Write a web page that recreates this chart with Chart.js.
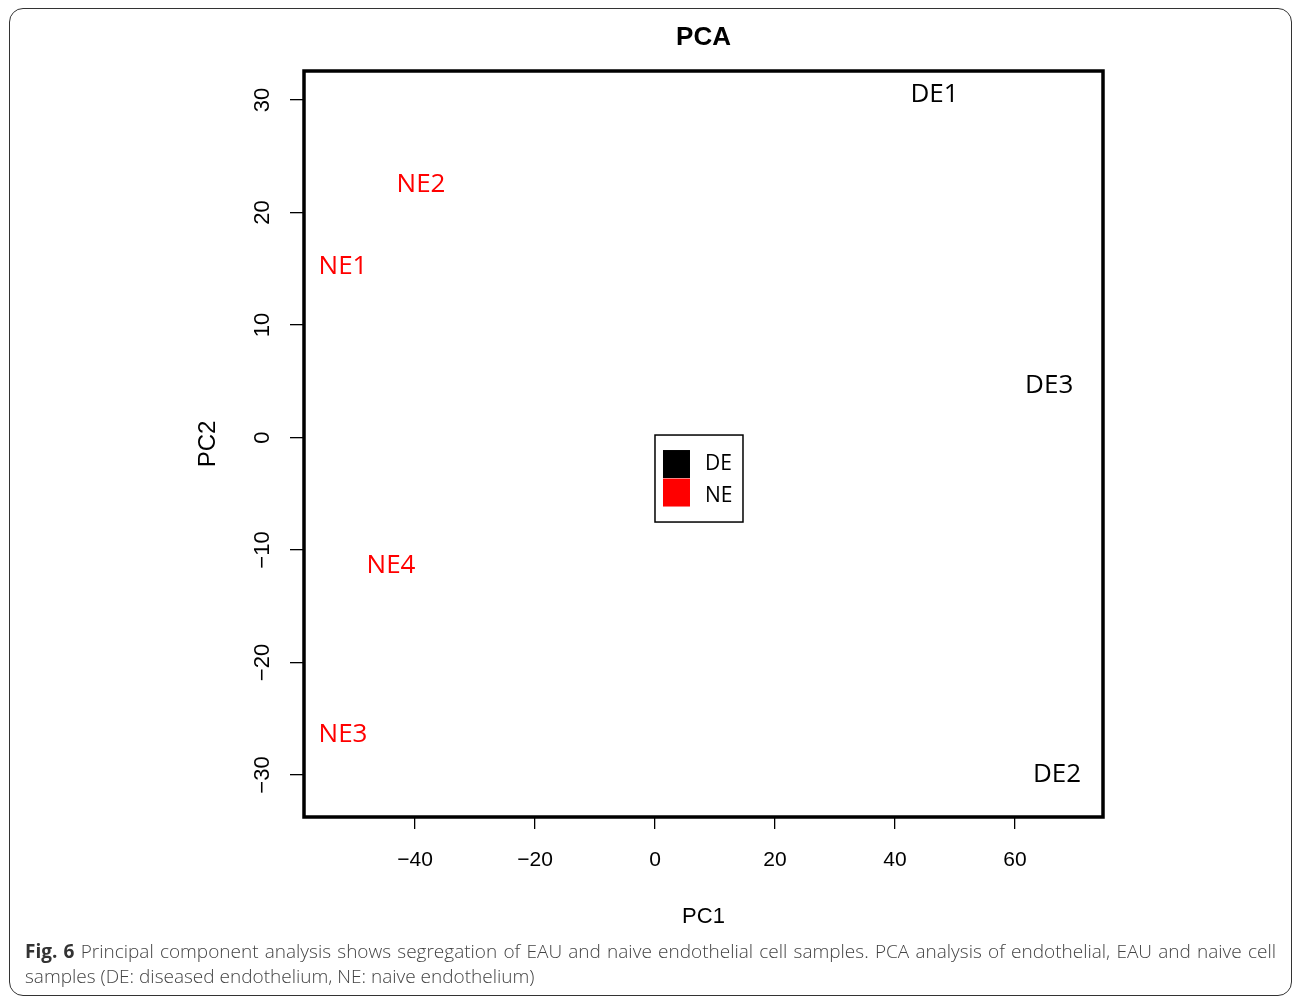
<!DOCTYPE html>
<html>
<head>
<meta charset="utf-8">
<title>PCA</title>
<script src="https://cdn.jsdelivr.net/npm/chart.js@4.4.1/dist/chart.umd.min.js"></script>
<style>
  html, body { margin: 0; padding: 0; background: #fff; }
  body { width: 1293px; height: 996px; position: relative; overflow: hidden; }
  #frame {
    position: absolute; left: 9px; top: 8px; width: 1283px; height: 988px;
    border: 1.5px solid #333; border-radius: 14px; box-sizing: border-box;
  }
  #pcaChart { position: absolute; left: 0; top: 0; }
  .caption {
    position: absolute; left: 25px; width: 1251px;
    font-family: "Open Sans", sans-serif; font-weight: 300; font-size: 19px;
    color: #444; white-space: nowrap; line-height: 24px;
  }
  .caption b { font-weight: 700; color: #333; }
  #cap1 { top: 939px; text-align: justify; text-align-last: justify; }
  #cap2 { top: 964px; }
</style>
</head>
<body>
<div id="frame"></div>
<canvas id="pcaChart" width="1293" height="996"></canvas>
<div class="caption" id="cap1"><b>Fig. 6</b> Principal component analysis shows segregation of EAU and naive endothelial cell samples. PCA analysis of endothelial, EAU and naive cell</div>
<div class="caption" id="cap2">samples (DE: diseased endothelium, NE: naive endothelium)</div>

<script>
// sample scores
const sampleNames = ['DE1', 'DE2', 'DE3', 'NE1', 'NE2', 'NE3', 'NE4'];
const sampleGroups = ['DE', 'DE', 'DE', 'NE', 'NE', 'NE', 'NE'];
const pc1Values = [46.6, 67.0, 65.7, -52.0, -39.0, -52.0, -44.0];
const pc2Values = [30.5, -30.0, 4.6, 15.2, 22.5, -26.4, -11.4];

const groupNames = ['DE', 'NE'];
const groupColors = ['#000000', '#ff0000'];

const xTicks = [-40, -20, 0, 20, 40, 60];
const yTicks = [-30, -20, -10, 0, 10, 20, 30];

const axisFont = '"Liberation Sans", Arial, sans-serif';
const labelFont = '"Open Sans", sans-serif';

// R style minus sign
function fmt(v) {
    return v < 0 ? '\u2212' + Math.abs(v) : String(v);
}

const datasets = groupNames.map((g, gi) => ({
    label: g,
    data: sampleNames
        .map((n, i) => ({ x: pc1Values[i], y: pc2Values[i], name: n, group: sampleGroups[i] }))
        .filter(p => p.group === g),
    pointRadius: 0,
    pointHoverRadius: 0,
    backgroundColor: groupColors[gi],
    borderColor: groupColors[gi]
}));

// sample names are drawn instead of point markers
const sampleLabels = {
    id: 'sampleLabels',
    afterDatasetsDraw(chart) {
        const ctx = chart.ctx;
        ctx.save();
        ctx.font = '26px ' + labelFont;
        ctx.textAlign = 'center';
        ctx.textBaseline = 'middle';
        chart.data.datasets.forEach((ds, di) => {
            const meta = chart.getDatasetMeta(di);
            ctx.fillStyle = ds.borderColor;
            meta.data.forEach((el, i) => {
                ctx.fillText(ds.data[i].name, el.x, el.y);
            });
        });
        ctx.restore();
    }
};

// box round plot region, rotated y labels, legend in the middle
const plotExtras = {
    id: 'plotExtras',
    afterDraw(chart) {
        const ctx = chart.ctx;
        const area = chart.chartArea;
        const xs = chart.scales.x;
        const ys = chart.scales.y;
        ctx.save();

        ctx.strokeStyle = '#000';
        ctx.lineWidth = 3.5;
        ctx.strokeRect(area.left, area.top, area.right - area.left, area.bottom - area.top);

        ctx.fillStyle = '#000';
        ctx.font = '22px ' + axisFont;
        ctx.textAlign = 'center';
        ctx.textBaseline = 'middle';
        ys.ticks.forEach(t => {
            ctx.save();
            ctx.translate(area.left - 41, ys.getPixelForValue(t.value));
            ctx.rotate(-Math.PI / 2);
            ctx.fillText(fmt(t.value), 0, 0);
            ctx.restore();
        });

        const ax = xs.getPixelForValue(0);
        const ay = ys.getPixelForValue(0);
        ctx.fillStyle = '#fff';
        ctx.fillRect(ax, ay - 2.5, 88, 87);
        ctx.lineWidth = 1.5;
        ctx.strokeStyle = '#000';
        ctx.strokeRect(ax, ay - 2.5, 88, 87);
        ctx.font = '21px ' + labelFont;
        ctx.textAlign = 'left';
        groupNames.forEach((g, gi) => {
            ctx.fillStyle = groupColors[gi];
            ctx.fillRect(ax + 8, ay + 12.5 + gi * 28.5, 27, 28);
            ctx.fillStyle = '#000';
            ctx.fillText(g, ax + 50, ay + 26.5 + gi * 31.5);
        });

        ctx.restore();
    }
};

const ctx = document.getElementById('pcaChart').getContext('2d');

new Chart(ctx, {
    type: 'scatter',
    data: { datasets: datasets },
    options: {
        responsive: false,
        animation: false,
        events: [],
        layout: { padding: { left: 180, right: 190, top: 0, bottom: 59 } },
        plugins: {
            legend: { display: false },
            tooltip: { enabled: false },
            title: {
                display: true,
                text: 'PCA',
                color: '#000',
                fullSize: false,
                font: { family: axisFont, size: 26, weight: 'bold' },
                padding: { top: 22, bottom: 17.8 }
            }
        },
        scales: {
            x: {
                type: 'linear',
                min: -58.5,
                max: 74.67,
                afterBuildTicks: s => { s.ticks = xTicks.map(v => ({ value: v })); },
                afterFit: s => { s.height = 120; },
                border: { display: false },
                grid: { drawOnChartArea: false, drawTicks: true, tickLength: 12, color: '#000', lineWidth: 1.3 },
                ticks: {
                    color: '#000',
                    font: { family: axisFont, size: 21 },
                    padding: 19,
                    maxRotation: 0,
                    autoSkip: false,
                    callback: v => fmt(v)
                },
                title: {
                    display: true,
                    text: 'PC1',
                    color: '#000',
                    font: { family: axisFont, size: 22 },
                    padding: { top: 0, bottom: 7 }
                }
            },
            y: {
                type: 'linear',
                min: -33.73,
                max: 32.58,
                afterBuildTicks: s => { s.ticks = yTicks.map(v => ({ value: v })); },
                afterFit: s => { s.width = 124; },
                border: { display: false },
                grid: { drawOnChartArea: false, drawTicks: true, tickLength: 14, color: '#000', lineWidth: 1.3 },
                ticks: { display: false },
                title: {
                    display: true,
                    text: 'PC2',
                    color: '#000',
                    font: { family: axisFont, size: 24 },
                    padding: { top: 13.6, bottom: 0 }
                }
            }
        }
    },
    plugins: [sampleLabels, plotExtras]
});
</script>
</body>
</html>
